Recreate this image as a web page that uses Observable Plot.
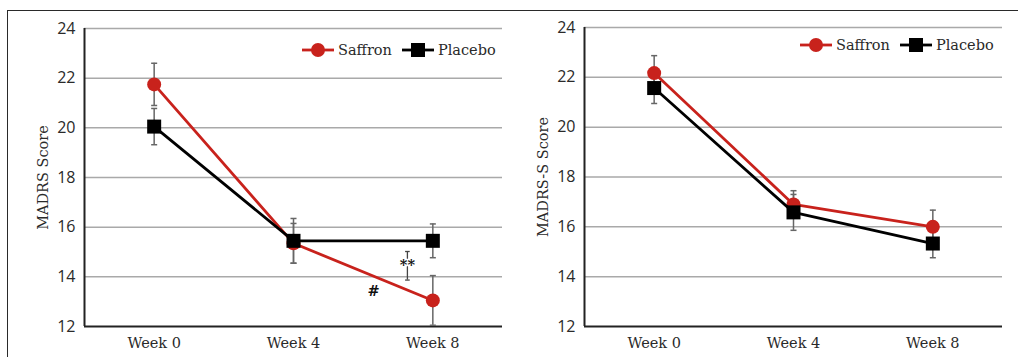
<!DOCTYPE html>
<html>
<head>
<meta charset="utf-8">
<script src="https://cdn.jsdelivr.net/npm/d3@7"></script>
<script src="https://cdn.jsdelivr.net/npm/@observablehq/plot@0.6"></script>
<style>
  html, body { margin: 0; padding: 0; background: #fff; }
  #fig { position: relative; width: 1018px; height: 357px; overflow: hidden; background: #fff; }
  #frame { position: absolute; left: 7px; top: 10px; width: 1020px; height: 360px;
           border-top: 1.5px solid #2a2a2a; border-left: 1.5px solid #2a2a2a; box-sizing: border-box; }
  .panel { position: absolute; top: 0; }
  .panel svg { overflow: visible; }
  g[aria-label="y-axis tick label"] { font-family: "Open Sans", Lato, sans-serif; font-size: 16px; }
  g[aria-label="x-axis tick label"] { font-family: "DejaVu Serif", serif; font-size: 14.5px; }
  g[aria-label="y-axis label"] { font-family: "DejaVu Serif", serif; font-size: 14.5px; }
  .legend { position: absolute; display: flex; align-items: center; height: 18px;
            font-family: "DejaVu Serif", serif; font-size: 14.5px; color: #2a2a2a; white-space: nowrap; }
  .legend .item { display: flex; align-items: center; margin-right: 10px; }
  .legend .item span { margin-left: 4px; }
</style>
</head>
<body>
<div id="fig"><div id="frame"></div></div>
<script>
// ---- data ----
const weeks = [0, 4, 8];
const weekPrefix = "Week ";
const groups = ["Saffron", "Placebo"];
const groupColors = ["#c8221c", "#000000"];
const yTicks = [12, 14, 16, 18, 20, 22, 24];

// Panel A: MADRS Score (mean, error)
const madrsSaffron    = [21.75, 15.35, 13.05];
const madrsSaffronErr = [0.85, 0.8, 1.0];
const madrsPlacebo    = [20.05, 15.45, 15.45];
const madrsPlaceboErr = [0.73, 0.9, 0.68];

// Panel B: MADRS-S Score (mean, error)
const madrsSSaffron    = [22.17, 16.9, 16.0];
const madrsSSaffronErr = [0.7, 0.55, 0.67];
const madrsSPlacebo    = [21.57, 16.58, 15.33];
const madrsSPlaceboErr = [0.62, 0.72, 0.57];

// Panel A annotations
const annotLabels = ["#", "**"];
const annotWeeks  = [6.3, 7.27];
const annotScores = [13.42, 14.45];
const bracketWeek = [7.27];
const bracketLow  = [13.87];
const bracketHigh = [15.02];

// ---- helpers ----
const capSymbol = {
  draw(context, size) {
    const w = Math.sqrt(size) / 2;
    context.moveTo(-w, 0);
    context.lineTo(w, 0);
  }
};

function rowsFor(vals, errs, group) {
  return weeks.map((w, i) => ({group, week: w, score: vals[i], err: errs[i]}));
}

function makePanel({saf, safErr, pla, plaErr, label, marginLeft, marginRight, marginTop, extra}) {
  const s = rowsFor(saf, safErr, groups[0]);
  const p = rowsFor(pla, plaErr, groups[1]);
  const all = s.concat(p);
  const xDomain = [-2, 10];
  const errMarks = [
    Plot.ruleX(all, {x: "week", y1: d => d.score - d.err, y2: d => d.score + d.err, stroke: "#666", strokeWidth: 1.5}),
    Plot.dot(all, {x: "week", y: d => d.score + d.err, symbol: capSymbol, r: 3.4, stroke: "#666", strokeWidth: 1.5, fill: "none"}),
    Plot.dot(all, {x: "week", y: d => d.score - d.err, symbol: capSymbol, r: 3.4, stroke: "#666", strokeWidth: 1.5, fill: "none"})
  ];
  return Plot.plot({
    width: 509, height: 357,
    marginLeft, marginRight, marginTop, marginBottom: 31,
    style: {fontFamily: "DejaVu Serif, serif", fontSize: "14px", color: "#2a2a2a", background: "transparent", overflow: "visible"},
    x: {type: "linear", domain: xDomain},
    y: {domain: [yTicks[0], yTicks[yTicks.length - 1]]},
    marks: [
      Plot.gridY(yTicks.slice(1), {stroke: "#a9a9a9", strokeOpacity: 1, strokeWidth: 1.5}),
      Plot.axisY({ticks: yTicks, tickSize: 0, tickPadding: 9, label, labelAnchor: "center", labelArrow: "none", labelOffset: 47}),
      Plot.axisX({ticks: weeks, tickFormat: d => weekPrefix + d, tickSize: 0, tickPadding: 11, label: null}),
      Plot.ruleY([yTicks[0]], {stroke: "#222", strokeWidth: 2}),
      Plot.ruleX([xDomain[0]], {stroke: "#222", strokeWidth: 2}),
      ...errMarks,
      ...(extra || []),
      Plot.line(s, {x: "week", y: "score", stroke: groupColors[0], strokeWidth: 2.8}),
      Plot.dot(s, {x: "week", y: "score", r: 7, fill: groupColors[0], stroke: "none"}),
      Plot.line(p, {x: "week", y: "score", stroke: groupColors[1], strokeWidth: 2.8}),
      Plot.dot(p, {x: "week", y: "score", symbol: "square", r: 7.9, fill: groupColors[1], stroke: "none"})
    ]
  });
}

const bracket = bracketWeek.map((w, i) => ({week: w, low: bracketLow[i], high: bracketHigh[i]}));
const annots = annotLabels.map((t, i) => ({label: t, week: annotWeeks[i], score: annotScores[i]}));

const extraA = [
  Plot.ruleX(bracket, {x: "week", y1: "low", y2: "high", stroke: "#444", strokeWidth: 1.3}),
  Plot.dot(bracket, {x: "week", y: "low", symbol: capSymbol, r: 2.6, stroke: "#444", strokeWidth: 1.3, fill: "none"}),
  Plot.dot(bracket, {x: "week", y: "high", symbol: capSymbol, r: 2.6, stroke: "#444", strokeWidth: 1.3, fill: "none"}),
  Plot.text(annots, {x: "week", y: "score", text: "label", fill: "#111", stroke: "white", strokeWidth: 3, paintOrder: "stroke", fontSize: 14.5, fontWeight: "bold", fontFamily: "DejaVu Serif, serif"})
];

const A = makePanel({saf: madrsSaffron, safErr: madrsSaffronErr, pla: madrsPlacebo, plaErr: madrsPlaceboErr,
  label: "MADRS Score", marginLeft: 84, marginRight: 7, marginTop: 28, extra: extraA});
const B = makePanel({saf: madrsSSaffron, safErr: madrsSSaffronErr, pla: madrsSPlacebo, plaErr: madrsSPlaceboErr,
  label: "MADRS-S Score", marginLeft: 75, marginRight: 16, marginTop: 27});

const fig = document.getElementById("fig");
function addPanel(svg, left) {
  const d = document.createElement("div");
  d.className = "panel";
  d.style.left = left + "px";
  d.appendChild(svg);
  fig.appendChild(d);
}
addPanel(A, 0);
addPanel(B, 509);

function legend(left, top) {
  const div = document.createElement("div");
  div.className = "legend";
  div.style.left = left + "px";
  div.style.top = top + "px";
  groups.forEach((g, i) => {
    const item = document.createElement("div");
    item.className = "item";
    const c = groupColors[i];
    const marker = i === 0
      ? `<circle cx="16" cy="9" r="7" fill="${c}"/>`
      : `<rect x="9" y="2" width="14" height="14" fill="${c}"/>`;
    item.innerHTML = `<svg width="32" height="18"><line x1="0" x2="32" y1="9" y2="9" stroke="${c}" stroke-width="2.8"/>${marker}</svg><span>${g}</span>`;
    div.appendChild(item);
  });
  fig.appendChild(div);
}
legend(302, 41);
legend(800, 36);
</script>
</body>
</html>
